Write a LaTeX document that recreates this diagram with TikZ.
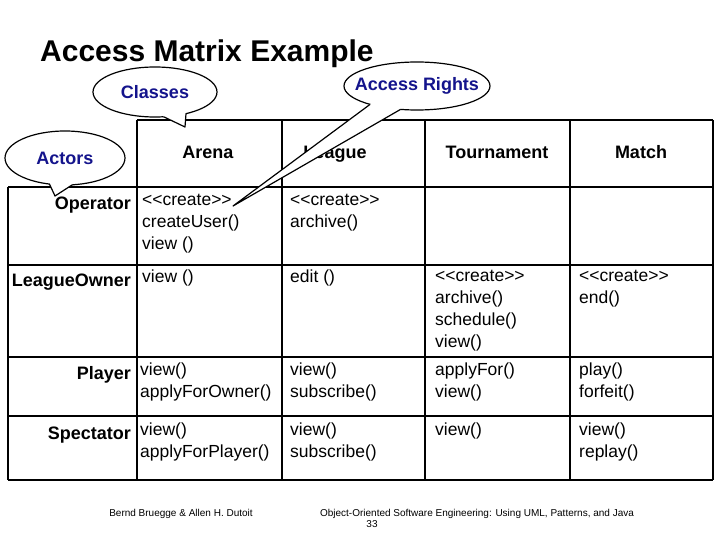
\documentclass[tikz,border=0pt]{standalone}
\usepackage{fontspec}
\setmainfont{Liberation Sans}
\definecolor{callblue}{RGB}{20,20,140}
\begin{document}
\begin{tikzpicture}[x=1pt,y=-1pt,
  grid/.style={line width=2pt},
  cell/.style={anchor=north west,align=left,inner sep=0pt,font=\fontsize{17.5}{22}\selectfont},
  head/.style={anchor=base,inner sep=0pt,font=\fontsize{18}{20}\selectfont\bfseries},
  rowlab/.style={anchor=base east,inner sep=0pt,font=\fontsize{18}{20}\selectfont\bfseries},
  bubble/.style={fill=white,draw=black,line width=1.2pt},
  btext/.style={font=\fontsize{18}{20}\selectfont\bfseries,text=callblue,inner sep=0pt},
  foot/.style={font=\fontsize{10}{11}\selectfont,inner sep=0pt}]
\useasboundingbox (0,0) rectangle (720,540);
\fill[white] (0,0) rectangle (720,540);
\node[anchor=base west,inner sep=0pt,font=\fontsize{30}{34}\selectfont\bfseries] (title) at (40,62) {Access Matrix Example};
% grid
\draw[grid] (137,120) -- (713,120);
\draw[grid] (8,187) -- (713,187);
\foreach \y in {265,357,416,480} \draw[grid] (8,\y) -- (713,\y);
\draw[grid] (8,187) -- (8,480);
\foreach \x in {137,282,425,570,713} \draw[grid] (\x,120) -- (\x,480);
% headers
\node[head] (hA) at (208,159) {Arena};
\node[head] (hL) at (335,159) {League};
\node[head] (hT) at (497,159) {Tournament};
\node[head] (hM) at (641,159) {Match};
% row labels
\node[rowlab] (rO) at (131,210) {Operator};
\node[rowlab] (rL) at (131,286) {LeagueOwner};
\node[rowlab] (rP) at (131,379) {Player};
\node[rowlab] (rS) at (131,439) {Spectator};
% cells
\node[cell] (c11) at (142,194) {<{}<create>{}>\\createUser()\\view ()};
\node[cell] (c12) at (290,194) {<{}<create>{}>\\archive()};
\node[cell] (c21) at (142,270) {view ()};
\node[cell] (c22) at (290,270) {edit ()};
\node[cell] (c23) at (435,270) {<{}<create>{}>\\archive()\\schedule()\\view()};
\node[cell] (c24) at (579,270) {<{}<create>{}>\\end()};
\node[cell] (c31) at (140,363) {view()\\applyForOwner()};
\node[cell] (c32) at (290,363) {view()\\subscribe()};
\node[cell] (c33) at (435,363) {applyFor()\\view()};
\node[cell] (c34) at (579,363) {play()\\forfeit()};
\node[cell] (c41) at (140,423) {view()\\applyForPlayer()};
\node[cell] (c42) at (290,423) {view()\\subscribe()};
\node[cell] (c43) at (435,423) {view()};
\node[cell] (c44) at (579,423) {view()\\replay()};
% Classes
\draw[bubble] (155,92) ellipse [x radius=62, y radius=25];
\fill[white] ({155+62*cos(60)},{92+25*sin(60)}) -- (185,127) -- ({155+62*cos(82)},{92+25*sin(82)}) -- (160,100) -- cycle;
\draw[line width=1.2pt,line join=round] ({155+62*cos(60)},{92+25*sin(60)}) -- (185,127) -- ({155+62*cos(82)},{92+25*sin(82)});
\node[btext] (lc) at (155,92) {Classes};
% Actors
\draw[bubble] (65,158) ellipse [x radius=60, y radius=27];
\fill[white] ({65+60*cos(105)},{158+27*sin(105)}) -- (55,196) -- ({65+60*cos(83)},{158+27*sin(83)}) -- (62,165) -- cycle;
\draw[line width=1.2pt,line join=round] ({65+60*cos(105)},{158+27*sin(105)}) -- (55,196) -- ({65+60*cos(83)},{158+27*sin(83)});
\node[btext] (la) at (65,158) {Actors};
% Access Rights
\draw[bubble] (417,86) ellipse [x radius=73, y radius=24];
\fill[white] ({417+73*cos(130)},{86+24*sin(130)}) -- (233,206) -- ({417+73*cos(103)},{86+24*sin(103)}) -- (400,95) -- cycle;
\draw[line width=1.2pt,line join=round] ({417+73*cos(130)},{86+24*sin(130)}) -- (233,206) -- ({417+73*cos(103)},{86+24*sin(103)});
\node[btext] (lr) at (417,86) {Access Rights};
% footer
\node[foot] (f1) at (181,514) {Bernd Bruegge \& Allen H. Dutoit};
\node[foot] (f2) at (477,514) {Object-Oriented Software Engineering: Using UML, Patterns, and Java};
\node[foot] (f3) at (372,524) {33};
\end{tikzpicture}
\end{document}
